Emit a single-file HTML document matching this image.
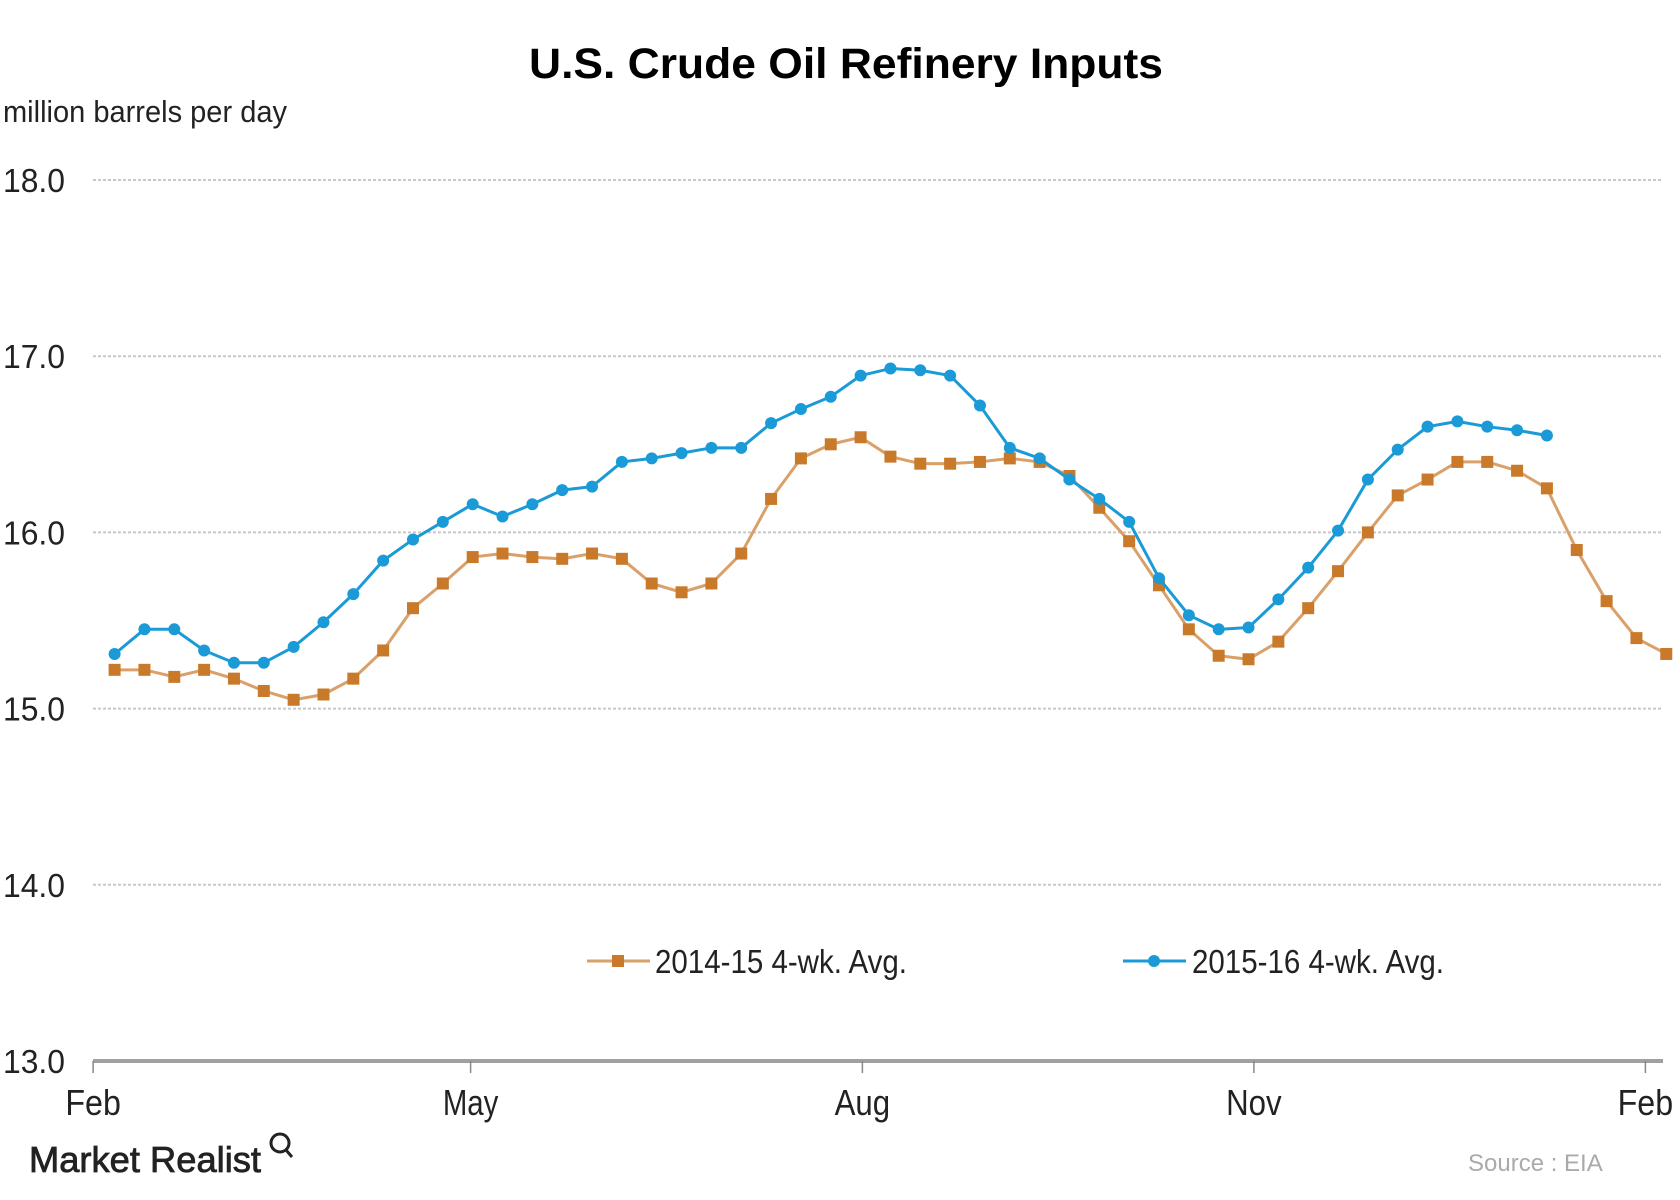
<!DOCTYPE html>
<html><head><meta charset="utf-8"><style>
body{margin:0;background:#fff;}
svg{display:block;font-family:"Liberation Sans Narrow","Liberation Sans",sans-serif;}
</style></head><body>
<svg id="chart" width="1680" height="1200" viewBox="0 0 1680 1200" xmlns="http://www.w3.org/2000/svg">
<rect width="1680" height="1200" fill="#fff"/>
<text x="846" y="78" text-anchor="middle" font-family="Liberation Sans, sans-serif" font-weight="bold" font-size="43" fill="#000" textLength="634" lengthAdjust="spacingAndGlyphs">U.S. Crude Oil Refinery Inputs</text>
<text x="3" y="122" font-size="31" fill="#222" textLength="284" lengthAdjust="spacingAndGlyphs">million barrels per day</text>
<g id="grid"></g>
<g id="series"></g>
<g>
<g>
<line x1="587" y1="961" x2="650" y2="961" stroke="#d9a06a" stroke-width="3"/>
<rect x="612" y="955" width="12" height="12" fill="#c87a2a"/>
<text x="655" y="973" font-size="33" fill="#222" textLength="252" lengthAdjust="spacingAndGlyphs">2014-15  4-wk. Avg.</text>
</g>
<g>
<line x1="1123" y1="961" x2="1186" y2="961" stroke="#1a9ad6" stroke-width="3"/>
<circle cx="1154" cy="961" r="6" fill="#1a9ad6"/>
<text x="1192" y="973" font-size="33" fill="#222" textLength="252" lengthAdjust="spacingAndGlyphs">2015-16  4-wk. Avg.</text>
</g>
</g>
<text x="29" y="1172" font-size="36" fill="#222" stroke="#222" stroke-width="0.8" textLength="232" lengthAdjust="spacingAndGlyphs">Market Realist</text>
<circle cx="280" cy="1143" r="9" fill="none" stroke="#222" stroke-width="3"/>
<line x1="286" y1="1150" x2="292" y2="1157" stroke="#222" stroke-width="3"/>
<text x="1468" y="1171" font-family="Liberation Sans, sans-serif" font-size="24" fill="#aaa">Source : EIA</text>
</svg>
<script>
const yTicks = [13, 14, 15, 16, 17, 18];
const yTickLabels = ["13.0", "14.0", "15.0", "16.0", "17.0", "18.0"];
const monthLabels = ["Feb", "May", "Aug", "Nov", "Feb"];
const monthWeekIndex = [-0.72, 11.93, 25.06, 38.18, 51.3];
const series2014 = [15.22,15.22,15.18,15.22,15.17,15.10,15.05,15.08,15.17,15.33,15.57,15.71,15.86,15.88,15.86,15.85,15.88,15.85,15.71,15.66,15.71,15.88,16.19,16.42,16.50,16.54,16.43,16.39,16.39,16.40,16.42,16.40,16.32,16.14,15.95,15.70,15.45,15.30,15.28,15.38,15.57,15.78,16.00,16.21,16.30,16.40,16.40,16.35,16.25,15.90,15.61,15.40,15.31];
const series2015 = [15.31,15.45,15.45,15.33,15.26,15.26,15.35,15.49,15.65,15.84,15.96,16.06,16.16,16.09,16.16,16.24,16.26,16.40,16.42,16.45,16.48,16.48,16.62,16.70,16.77,16.89,16.93,16.92,16.89,16.72,16.48,16.42,16.30,16.19,16.06,15.74,15.53,15.45,15.46,15.62,15.80,16.01,16.30,16.47,16.60,16.63,16.60,16.58,16.55];

const NS = "http://www.w3.org/2000/svg";
function xScale(i){ return 114.6 + i*29.84; }
function yScale(v){ return 1061 - (v-13)*176.2; }
function mk(tag, attrs, parent){ const e=document.createElementNS(NS,tag); for(const k in attrs) e.setAttribute(k,attrs[k]); parent.appendChild(e); return e; }

const grid = document.getElementById('grid');
yTicks.forEach((t,i)=>{
  const y = yScale(t);
  if (t !== 13) {
    const l = mk('line',{x1:93,x2:1661,y1:y,y2:y,stroke:'#c8c8c8','stroke-width':2,'stroke-dasharray':'3,2'},grid);
    
    
  }
  const tx = mk('text',{x:3,y:y+12,'font-size':33,fill:'#222',textLength:62,lengthAdjust:'spacingAndGlyphs'},grid);
  tx.textContent = yTickLabels[i];
  
  
});
const ax = mk('line',{x1:93,x2:1663,y1:1061,y2:1061,stroke:'#a0a0a0','stroke-width':4},grid);


monthLabels.forEach((m,i)=>{
  const x = xScale(monthWeekIndex[i]);
  const tk = mk('line',{x1:x,x2:x,y1:1061,y2:1073,stroke:'#888','stroke-width':1.5},grid);
  
  
  const tx = mk('text',{x:x,y:1115,'font-size':36,fill:'#222','text-anchor':'middle',textLength:m.length*18.5,lengthAdjust:'spacingAndGlyphs'},grid);
  tx.textContent = m;
  
  
});

const sg = document.getElementById('series');
function drawSeries(vals, lineColor, markColor, square, name){
  const g = mk('g',{},sg);
  
  
  const pts = vals.map((v,i)=>xScale(i)+','+yScale(v)).join(' ');
  const pl = mk('polyline',{points:pts,fill:'none',stroke:lineColor,'stroke-width':3},g);
  
  
  vals.forEach((v,i)=>{
    let m;
    if (square) m = mk('rect',{x:xScale(i)-6,y:yScale(v)-6,width:12,height:12,fill:markColor},g);
    else m = mk('circle',{cx:xScale(i),cy:yScale(v),r:6,fill:markColor},g);
    
    
  });
}
drawSeries(series2014,'#d9a06a','#c87a2a',true,'series-2014-15');
drawSeries(series2015,'#1a9ad6','#1a9ad6',false,'series-2015-16');
</script>
</body></html>
